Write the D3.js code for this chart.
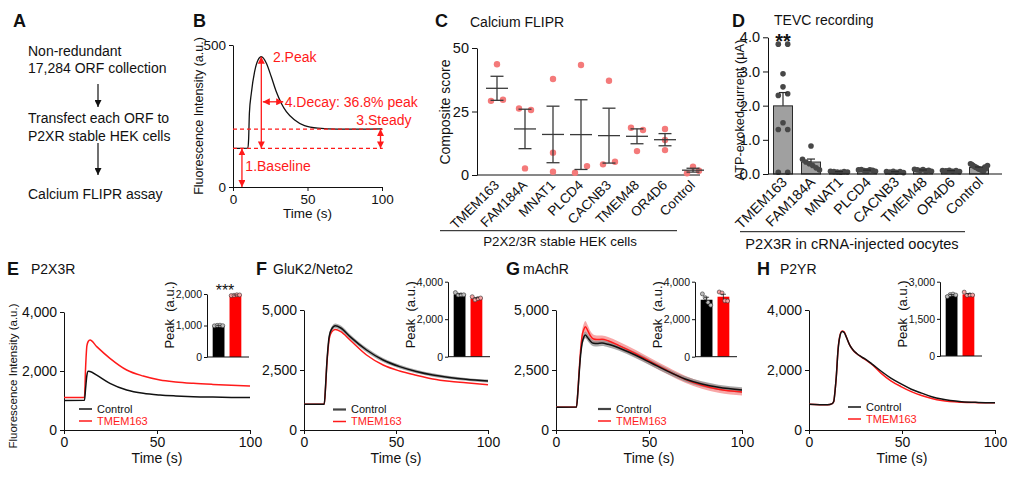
<!DOCTYPE html>
<html><head><meta charset="utf-8">
<script src="https://cdn.jsdelivr.net/npm/d3@7"></script>
<style>
body{margin:0;background:#fff;}
svg{font-family:"Liberation Sans", Arial, Helvetica, sans-serif;}
</style></head><body>
<svg id="fig" width="1011" height="481"></svg>
<script>
// ---------------- DATA ----------------
const aLines = ["Non-redundant", "17,284 ORF collection", "Transfect each ORF to", "P2XR stable HEK cells", "Calcium FLIPR assay"];

const bTime  = [0, 10, 10.5, 11, 12.3, 14.5, 16.8, 19, 22.4, 25.7, 29, 32.4, 35.8, 41.4, 48, 57, 70, 85, 100];
const bTrace = [136, 137, 170, 260, 330, 406, 447, 459, 436, 388, 336, 295, 265, 236, 216, 207, 204, 204, 205];
const bBaseline = 136, bSteady = 204, bPeak = 459, bPeakTime = 19, bDecayLevel = 300;

const cats = ["TMEM163", "FAM184A", "MNAT1", "PLCD4", "CACNB3", "TMEM48", "OR4D6", "Control"];
const cScores = [[43.6, 29.2, 29.6], [26.2, 25.6, 2.6], [37.8, 8.8, 1.3], [43.3, 0.9, 3.5],
                 [37.1, 4.2, 5.2], [18.6, 17.7, 9.4], [18.1, 13.8, 9.8], [0.7, 3.3, 1.7]];
const cTicks = [0, 25, 50];

const dCurrents = [
  [3.8, 3.8, 2.93, 2.55, 2.3, 2.35, 1.5, 1.3, 1.3, 0.05, 0.05],
  [0.82, 0.43, 0.35, 0.3, 0.25, 0.18, 0.12],
  [0.08, 0.07, 0.06, 0.05, 0.07, 0.06],
  [0.12, 0.13, 0.1, 0.09, 0.12, 0.11, 0.08],
  [0.07, 0.06, 0.08, 0.05, 0.07, 0.04],
  [0.14, 0.12, 0.1, 0.13, 0.09, 0.11, 0.08],
  [0.1, 0.09, 0.11, 0.08, 0.1, 0.07],
  [0.3, 0.28, 0.25, 0.22, 0.2, 0.18, 0.15, 0.14, 0.12, 0.1, 0.09, 0.2, 0.16, 0.25]];
const dTicks = [0, 1, 2, 3, 4];

const timeTicks = [0, 50, 100];
const groups = ["Control", "TMEM163"];

const eTime = [0, 11, 11.6, 12.3, 13, 14, 17.6, 24.7, 33.7, 42.6, 51.6, 60, 69.5, 80, 90, 100];
const eCtrl = [1000, 1005, 1400, 1850, 1990, 1985, 1860, 1583, 1356, 1243, 1186, 1155, 1130, 1115, 1105, 1100];
const eTmem = [1100, 1105, 2100, 2850, 3000, 3050, 2825, 2430, 2034, 1830, 1695, 1630, 1583, 1545, 1515, 1490];
const ePeakCtrl = [990, 1005, 1010, 995];
const ePeakTmem = [1950, 1960, 1975, 1970];

const fTime = [0, 11, 11.7, 12.3, 13, 13.7, 15, 17, 20, 25, 34, 43, 52, 61, 70, 79, 88, 100];
const fCtrl = [1070, 1075, 1800, 2650, 3400, 3900, 4200, 4340, 4250, 3890, 3333, 2917, 2640, 2440, 2292, 2190, 2111, 2040];
const fTmem = [1070, 1075, 1750, 2600, 3300, 3800, 4080, 4190, 4100, 3750, 3125, 2708, 2458, 2280, 2125, 2030, 1972, 1890];
const fCtrlSem = [15, 15, 40, 60, 80, 90, 100, 100, 100, 95, 90, 85, 80, 75, 70, 65, 60, 60];
const fPeakCtrl = [3420, 3290, 3300, 3300];
const fPeakTmem = [3200, 3030, 3100, 3130];

const gTime = [0, 11, 11.7, 12.4, 13.2, 14, 15, 15.8, 17, 18.5, 20.2, 22, 24.7, 28, 33.6, 42.6, 51.5, 60.5, 69.4, 78.4, 87.3, 100];
const gCtrl = [950, 955, 1500, 2300, 3100, 3600, 3880, 3960, 3850, 3700, 3610, 3600, 3620, 3570, 3430, 3125, 2780, 2430, 2125, 1917, 1778, 1667];
const gTmem = [950, 955, 1550, 2400, 3300, 3900, 4200, 4300, 4150, 3920, 3790, 3770, 3780, 3720, 3528, 3194, 2819, 2450, 2111, 1861, 1694, 1583];
const gCtrlSem = [25, 25, 60, 100, 120, 130, 140, 140, 140, 130, 120, 120, 120, 120, 120, 120, 120, 115, 110, 110, 110, 110];
const gTmemSem = [25, 25, 80, 150, 200, 220, 240, 240, 220, 200, 180, 170, 160, 160, 160, 150, 150, 150, 145, 145, 145, 145];
const gPeakCtrl = [3350, 3150, 2900, 2750];
const gPeakTmem = [3450, 3400, 2980, 2970];

const hTime = [0, 10, 12.5, 13.3, 14, 14.7, 15.6, 16.5, 17.8, 18.9, 20.1, 21.9, 23.7, 25.5, 28.2, 30.9, 34.5, 39, 44, 49.7, 55, 60.5, 66, 71.3, 82, 91, 100];
const hCtrl = [860, 840, 880, 950, 1300, 1800, 2650, 3090, 3280, 3250, 3090, 2830, 2670, 2560, 2440, 2340, 2170, 1950, 1730, 1530, 1360, 1230, 1110, 1030, 945, 920, 910];
const hTmem = [860, 840, 880, 950, 1300, 1800, 2670, 3110, 3300, 3270, 3100, 2830, 2660, 2550, 2430, 2320, 2150, 1880, 1640, 1440, 1280, 1150, 1050, 980, 925, 912, 905];
const hPeakCtrl = [2400, 2480, 2500, 2460];
const hPeakTmem = [2580, 2450, 2470, 2460];

// ---------------- HELPERS ----------------
const FONT = '"Liberation Sans", Arial, Helvetica, sans-serif';
const RED = "#ff1a1a";
const INK = "#111";
const svg = d3.select("#fig");
const defs = svg.append("defs");
function marker(id, color) {
  defs.append("marker").attr("id", id).attr("viewBox", "0 0 10 10")
    .attr("refX", 10).attr("refY", 5).attr("markerUnits", "userSpaceOnUse")
    .attr("markerWidth", 7).attr("markerHeight", 7).attr("orient", "auto-start-reverse")
    .append("path").attr("d", "M0,0L10,5L0,10z").attr("fill", color);
}
marker("ahK", INK); marker("ahR", RED);

function text(x, y, s, o = {}) {
  const t = svg.append("text").attr("x", x).attr("y", y).text(s)
    .attr("font-size", o.size || 14).attr("fill", o.fill || INK)
    .attr("text-anchor", o.anchor || "start");
  if (o.weight) t.attr("font-weight", o.weight);
  if (o.dy) t.attr("dy", o.dy);
  if (o.rotate !== undefined) t.attr("transform", `rotate(${o.rotate},${x},${y})`);
  return t;
}
function styleAxis(g, size) {
  g.attr("font-family", FONT).attr("font-size", size);
  g.selectAll("text").attr("fill", INK);
  g.selectAll("line,path").attr("stroke", INK).attr("stroke-width", 1);
}
function seg(x1, y1, x2, y2, color, w, o = {}) {
  const l = svg.append("line").attr("x1", x1).attr("y1", y1).attr("x2", x2).attr("y2", y2)
    .attr("stroke", color).attr("stroke-width", w);
  if (o.dash) l.attr("stroke-dasharray", o.dash);
  if (o.end) l.attr("marker-end", `url(#${o.end})`);
  if (o.start) l.attr("marker-start", `url(#${o.start})`);
  return l;
}
const sem = v => d3.deviation(v) / Math.sqrt(v.length);
function swarmOffsets(vals, ys, thresh, stepW, maxW) {
  const order = vals.map((v, i) => i).sort((a, b) => vals[b] - vals[a]);
  const clusters = []; let cur = [order[0]];
  for (let k = 1; k < order.length; k++) {
    if (Math.abs(ys(vals[order[k]]) - ys(vals[order[k - 1]])) < thresh) cur.push(order[k]);
    else { clusters.push(cur); cur = [order[k]]; }
  }
  clusters.push(cur);
  const off = vals.map(() => 0);
  for (const c of clusters) {
    if (c.length < 2) continue;
    c.sort((a, b) => a - b);
    const W = Math.min((c.length - 1) * stepW, maxW);
    c.forEach((i, j) => off[i] = -W / 2 + j * W / (c.length - 1));
  }
  return off;
}

// ---------------- PANEL A ----------------
text(13, 27, "A", {size: 18, weight: "bold"});
[56, 73, 123, 141, 199].forEach((yy, i) => text(28, yy, aLines[i], {size: 14}));
seg(98, 84, 98, 107, INK, 1.2, {end: "ahK"});
seg(98, 143, 98, 175, INK, 1.2, {end: "ahK"});

// ---------------- PANEL B ----------------
text(193, 27, "B", {size: 18, weight: "bold"});
const xB = d3.scaleLinear().domain([0, 100]).range([233, 382]);
const yB = d3.scaleLinear().domain([0, 500]).range([187, 45]);
svg.append("g").attr("transform", "translate(0,187)")
  .call(d3.axisBottom(xB).tickValues(timeTicks).tickSize(4).tickPadding(3).tickSizeOuter(0)).call(styleAxis, 13.5);
svg.append("g").attr("transform", "translate(233,0)")
  .call(d3.axisLeft(yB).tickValues([0, 500]).tickSize(4).tickPadding(3).tickSizeOuter(0)).call(styleAxis, 13.5);
text(199, 116, "Fluorescence Intensity (a.u.)", {size: 12.5, anchor: "middle", rotate: -90, dy: "0.35em"});
text(xB(50), 218, "Time (s)", {size: 13.5, anchor: "middle"});
svg.append("path").attr("d", d3.line().x((d, i) => xB(bTime[i])).y(d => yB(d)).curve(d3.curveMonotoneX)(bTrace))
  .attr("fill", "none").attr("stroke", INK).attr("stroke-width", 1.3);
// annotations
seg(xB(0), yB(bSteady), xB(100.5), yB(bSteady), RED, 1.2, {dash: "4,3"});
seg(xB(0), yB(bBaseline), xB(100.5), yB(bBaseline), RED, 1.2, {dash: "4,3"});
seg(xB(6), yB(0), xB(6), yB(bBaseline), RED, 1.3, {start: "ahR", end: "ahR"});
seg(xB(bPeakTime), yB(bBaseline), xB(bPeakTime), yB(bPeak), RED, 1.3, {start: "ahR", end: "ahR"});
seg(xB(20), yB(bDecayLevel), xB(33.7), yB(bDecayLevel), RED, 1.3, {start: "ahR", end: "ahR"});
seg(xB(99), yB(bBaseline), xB(99), yB(bSteady), RED, 1.3, {start: "ahR", end: "ahR"});
text(xB(26.8), yB(bPeak), "2.Peak", {size: 14, fill: RED, dy: "0.35em"});
text(xB(34.7), yB(bDecayLevel), "4.Decay: 36.8% peak", {size: 14, fill: RED, dy: "0.35em"});
text(xB(82.8), yB(236), "3.Steady", {size: 14, fill: RED, dy: "0.35em"});
text(xB(8.3), yB(74), "1.Baseline", {size: 14, fill: RED, dy: "0.35em"});

// ---------------- PANEL C ----------------
text(435, 27, "C", {size: 18, weight: "bold"});
text(470, 27, "Calcium FLIPR", {size: 14});
const xC = d3.scalePoint().domain(cats).range([497, 693]);
const yC = d3.scaleLinear().domain([0, 50]).range([175, 48]);
svg.append("g").attr("transform", "translate(477,0)")
  .call(d3.axisLeft(yC).tickValues(cTicks).tickSize(5).tickPadding(3).tickSizeOuter(0)).call(styleAxis, 14.5);
seg(477, 175, 700, 175, INK, 1);
text(445, 112, "Composite score", {size: 14, anchor: "middle", rotate: -90, dy: "0.35em"});
cats.forEach((c, i) => {
  const v = cScores[i], cx = xC(c);
  const off = swarmOffsets(v, yC, 7.5, 12, 12);
  v.forEach((d, j) => svg.append("circle").attr("cx", cx + off[j]).attr("cy", yC(d)).attr("r", 3.2).attr("fill", "#f47a7a"));
  const m = d3.mean(v), s = sem(v);
  const col = "#3a3a3a";
  seg(cx - 11, yC(m), cx + 11, yC(m), col, 1.3);
  seg(cx, yC(m - s), cx, yC(m + s), col, 1.3);
  seg(cx - 6.5, yC(m - s), cx + 6.5, yC(m - s), col, 1.3);
  seg(cx - 6.5, yC(m + s), cx + 6.5, yC(m + s), col, 1.3);
  text(cx + 3, 186, c, {size: 13.5, anchor: "end", rotate: -45});
});
seg(440, 230.7, 677, 230.7, INK, 1);
text(560, 245.5, "P2X2/3R stable HEK cells", {size: 13.3, anchor: "middle"});

// ---------------- PANEL D ----------------
text(732, 27, "D", {size: 18, weight: "bold"});
text(774, 25, "TEVC recording", {size: 14});
const xD = d3.scalePoint().domain(cats).range([783, 979]);
const yD = d3.scaleLinear().domain([0, 4]).range([174, 37.3]);
svg.append("g").attr("transform", "translate(768,0)")
  .call(d3.axisLeft(yD).tickValues(dTicks).tickSize(5).tickPadding(3).tickSizeOuter(0)).call(styleAxis, 14.5);
text(740, 110, "ATP-evoked current (μA)", {size: 12.8, anchor: "middle", rotate: -90, dy: "0.35em"});
cats.forEach((c, i) => {
  const v = dCurrents[i], cx = xD(c);
  const m = d3.mean(v), s = sem(v);
  svg.append("rect").attr("x", cx - 9.5).attr("width", 19).attr("y", yD(m)).attr("height", yD(0) - yD(m))
    .attr("fill", "#a0a0a0").attr("stroke", "#2b2b2b").attr("stroke-width", 1);
  const off = swarmOffsets(v, yD, 5.6, 9.4, 17);
  v.forEach((d, j) => svg.append("circle").attr("cx", cx + off[j]).attr("cy", yD(d)).attr("r", 2.8).attr("fill", "#474747"));
  seg(cx, yD(m), cx, yD(m + s), "#2b2b2b", 1.2);
  seg(cx - 4, yD(m + s), cx + 4, yD(m + s), "#2b2b2b", 1.2);
  text(cx + 5, 183, c, {size: 14.3, anchor: "end", rotate: -45});
});
seg(768, 174, 1002, 174, INK, 1);
text(xD(cats[0]), 47.5, "**", {size: 20, weight: "bold", anchor: "middle"});
seg(740, 231.7, 965, 231.7, INK, 1);
text(852, 249, "P2X3R in cRNA-injected oocytes", {size: 14.6, anchor: "middle"});

// ---------------- PANELS E-H ----------------
function tracePanel(p) {
  text(p.letterX, 275, p.letter, {size: 18, weight: "bold"});
  text(p.titleX, 274, p.title, {size: 14});
  const x = d3.scaleLinear().domain([0, 100]).range([p.x0, p.x1]);
  const y = d3.scaleLinear().domain([0, p.ymax]).range([430, p.yTop]);
  svg.append("g").attr("transform", "translate(0,430)")
    .call(d3.axisBottom(x).tickValues(timeTicks).tickSize(4).tickPadding(3).tickSizeOuter(0)).call(styleAxis, 14);
  svg.append("g").attr("transform", `translate(${p.x0},0)`)
    .call(d3.axisLeft(y).tickValues(p.yticks).tickFormat(d3.format(",")).tickSize(4).tickPadding(3).tickSizeOuter(0)).call(styleAxis, 14);
  text((p.x0 + p.x1) / 2, 463, "Time (s)", {size: 14, anchor: "middle"});
  const area = (vals, sd) => d3.area().x((d, i) => x(p.time[i])).y0((d, i) => y(vals[i] - sd[i]))
    .y1((d, i) => y(vals[i] + sd[i])).curve(d3.curveMonotoneX)(vals);
  const line = vals => d3.line().x((d, i) => x(p.time[i])).y(d => y(d)).curve(d3.curveMonotoneX)(vals);
  if (p.tmemSem) svg.append("path").attr("d", area(p.tmem, p.tmemSem)).attr("fill", "#f58a8a").attr("opacity", 0.75);
  if (p.ctrlSem) svg.append("path").attr("d", area(p.ctrl, p.ctrlSem)).attr("fill", "#8c8c8c").attr("opacity", 0.75);
  svg.append("path").attr("d", line(p.tmem)).attr("fill", "none").attr("stroke", RED).attr("stroke-width", 1.5);
  svg.append("path").attr("d", line(p.ctrl)).attr("fill", "none").attr("stroke", INK).attr("stroke-width", 1.5);
  // legend
  const lx = p.legX, ly = p.legY;
  seg(lx, ly, lx + 13, ly, p.ctrlSem ? "#444" : INK, p.ctrlSem ? 2.2 : 1.5);
  text(lx + 18, ly, groups[0], {size: 11, dy: "0.35em"});
  seg(lx, ly + 12, lx + 13, ly + 12, RED, 1.5);
  text(lx + 18, ly + 12, groups[1], {size: 11, fill: RED, dy: "0.35em"});
  // inset
  const q = p.inset;
  const yi = d3.scaleLinear().domain([0, q.max]).range([q.y0, q.yTop]);
  const xi = d3.scaleBand().domain(groups).range([q.x0 + 4, q.x0 + 36]).paddingInner(0.3).paddingOuter(0.1);
  [[q.ctrl, "#000", "#bdbdbd"], [q.tmem, "#ff0000", "#f7a3a3"]].forEach(([v, fill, dotFill], k) => {
    const m = d3.mean(v), s = sem(v), bx = xi(groups[k]), bw = xi.bandwidth(), cx = bx + bw / 2;
    svg.append("rect").attr("x", bx).attr("width", bw).attr("y", yi(m)).attr("height", q.y0 - yi(m)).attr("fill", fill);
    const n = v.length;
    v.forEach((d, j) => svg.append("circle").attr("cx", cx + (j - (n - 1) / 2) * 2.8).attr("cy", yi(d)).attr("r", 2)
      .attr("fill", dotFill).attr("stroke", "#333").attr("stroke-width", 0.6));
    seg(cx, yi(m - s), cx, yi(m + s), "#222", 0.8);
    seg(cx - 2.5, yi(m + s), cx + 2.5, yi(m + s), "#222", 0.8);
  });
  svg.append("g").attr("transform", `translate(${q.x0},0)`)
    .call(d3.axisLeft(yi).tickValues(q.ticks).tickFormat(d3.format(",")).tickSize(3).tickPadding(2).tickSizeOuter(0)).call(styleAxis, 10.5);
  seg(q.x0, q.y0, q.x0 + 42, q.y0, INK, 1);
  text(q.x0 - 38, q.y0 - 42, "Peak (a.u.)", {size: 13, anchor: "middle", rotate: -90, dy: "0.35em"})
    .style("white-space", "pre").text("Peak  (a.u.)");
  if (q.star) text(q.x0 + 18, q.y0 - 61, q.star, {size: 16, anchor: "middle"});
}

tracePanel({letter: "E", letterX: 7, title: "P2X3R", titleX: 31, x0: 64, x1: 250, yTop: 312, ymax: 4000,
  yticks: [0, 2000, 4000], time: eTime, ctrl: eCtrl, tmem: eTmem, legX: 79, legY: 409,
  inset: {x0: 207, y0: 357, yTop: 294, max: 2000, ticks: [0, 1000, 2000], ctrl: ePeakCtrl, tmem: ePeakTmem, star: "***"}});
tracePanel({letter: "F", letterX: 256, title: "GluK2/Neto2", titleX: 273, x0: 304, x1: 488, yTop: 310, ymax: 5000,
  yticks: [0, 2500, 5000], time: fTime, ctrl: fCtrl, tmem: fTmem, ctrlSem: fCtrlSem, legX: 333, legY: 409.5,
  inset: {x0: 448, y0: 356.7, yTop: 281.7, max: 4000, ticks: [0, 2000, 4000], ctrl: fPeakCtrl, tmem: fPeakTmem}});
tracePanel({letter: "G", letterX: 506, title: "mAchR", titleX: 523, x0: 556, x1: 742, yTop: 310, ymax: 5000,
  yticks: [0, 2500, 5000], time: gTime, ctrl: gCtrl, tmem: gTmem, ctrlSem: gCtrlSem, tmemSem: gTmemSem, legX: 598, legY: 409,
  inset: {x0: 695, y0: 356.7, yTop: 281.7, max: 4000, ticks: [0, 2000, 4000], ctrl: gPeakCtrl, tmem: gPeakTmem}});
tracePanel({letter: "H", letterX: 757, title: "P2YR", titleX: 780, x0: 809, x1: 995, yTop: 310, ymax: 4000,
  yticks: [0, 2000, 4000], time: hTime, ctrl: hCtrl, tmem: hTmem, legX: 848, legY: 407,
  inset: {x0: 940, y0: 356, yTop: 281.7, max: 3000, ticks: [0, 1500, 3000], ctrl: hPeakCtrl, tmem: hPeakTmem}});
text(12.5, 376, "Fluorescence Intensity (a.u.)", {size: 11.5, anchor: "middle", rotate: -90, dy: "0.35em"});
</script></body></html>
